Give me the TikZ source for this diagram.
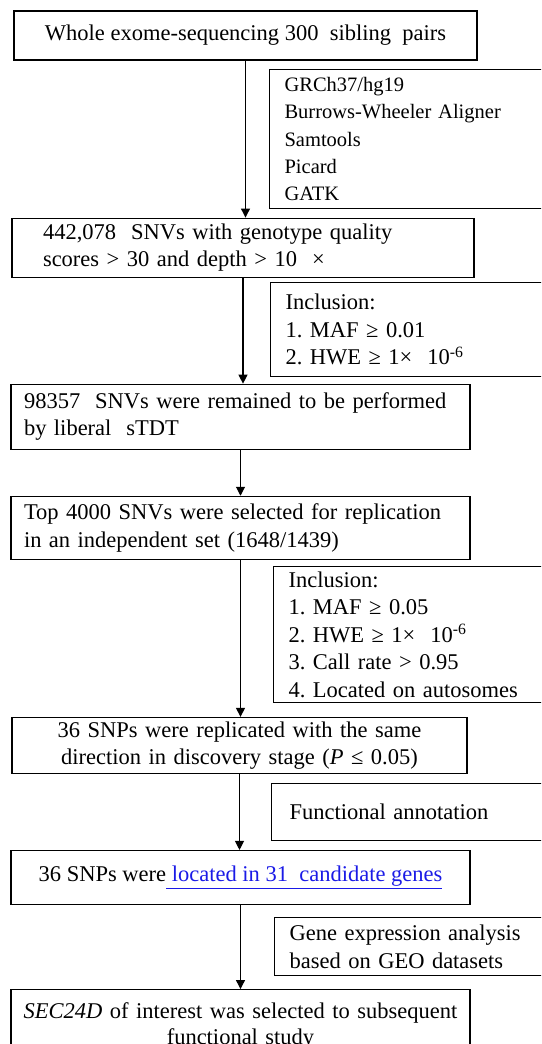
\documentclass[tikz,border=0pt]{standalone}
\usepackage{fontspec}
\setmainfont{Liberation Serif}
\usepackage{xcolor}
\usepackage{tikz}
\usetikzlibrary{arrows.meta, positioning}
\definecolor{linkblue}{HTML}{1A1AE6}
\frenchspacing

\begin{document}
\begin{tikzpicture}[
    x=1pt, y=1pt,
    font=\fontsize{22.5}{27.5}\selectfont,
    stage/.style={rectangle, draw, line width=1.1pt, inner xsep=12pt, inner ysep=2pt},
    note/.style={rectangle, draw, line width=1.1pt, anchor=north west, minimum width=300pt,
                 inner xsep=9pt, inner ysep=2pt, text width=270pt, align=left},
    flow/.style={-{Triangle[width=9pt,length=9pt]}, line width=1.1pt}
  ]
    \clip (0,0) rectangle (541,-1044);

    % main pipeline
    \node[stage, minimum width=463pt, minimum height=49pt] (WES) at (245.5,-35.5)
      {Whole exome-sequencing 300\ \ sibling\ \ pairs};
    \node[stage, below=157pt of WES, xshift=-2.5pt, minimum height=59pt,
          inner xsep=31pt, text width=400pt, align=left] (QC)
      {442,078\ \ SNVs with genotype quality\\ scores > 30 and depth > 10\ \ ×};
    \node[stage, below=106pt of QC, xshift=-2.5pt, minimum height=65pt,
          inner xsep=13pt, text width=433pt, align=left] (TDT)
      {98357\ \ SNVs were remained to be performed\\ by liberal\ \ sTDT};
    \node[stage, below=46pt of TDT, minimum height=63pt,
          inner xsep=13pt, text width=433pt, align=left] (TOP)
      {Top 4000 SNVs were selected for replication\\ in an independent set (1648/1439)};
    \node[stage, below=157pt of TOP, xshift=-1pt, minimum height=56pt,
          text width=431pt, align=center] (REP)
      {36 SNPs were replicated with the same\\ direction in discovery stage (\textit{P} ≤ 0.05)};
    \node[stage, below=76pt of REP, xshift=1pt, minimum width=459pt, minimum height=54pt] (GENE)
      {36 SNPs were\textcolor{linkblue}{\underline{ located in 31\ \ candidate genes}}};
    \node[stage, below=84pt of GENE, inner xsep=6pt, inner ysep=13pt,
          text width=447pt, align=center, font=\fontsize{22.5}{26.5}\selectfont] (SEC)
      {\textit{SEC24D} of interest was selected to subsequent\\ functional study};

    % side notes
    \node[note, minimum height=139pt, font=\fontsize{20.5}{27.2}\selectfont] (tools) at (269,-69)
      {GRCh37/hg19\\ Burrows-Wheeler Aligner\\ Samtools\\ Picard\\ GATK};
    \node[note, minimum height=94pt, inner xsep=11pt] (incl1) at (270,-282)
      {Inclusion:\\ 1. MAF ≥ 0.01\\ 2. HWE ≥ 1×\ \ 10\textsuperscript{-6}};
    \node[note, minimum height=136pt, inner xsep=15pt] (incl2) at (273,-566)
      {Inclusion:\\ 1. MAF ≥ 0.05\\ 2. HWE ≥ 1×\ \ 10\textsuperscript{-6}\\ 3. Call rate > 0.95\\ 4. Located on autosomes};
    \node[note, minimum height=57pt, inner xsep=18pt] (func) at (271,-783)
      {Functional annotation};
    \node[note, minimum height=58pt, inner xsep=8pt] (expr) at (274,-917)
      {Gene expression analysis\\ based on GEO datasets};

    % arrows
    \draw[flow] (WES.south) -- (WES.south |- QC.north);
    \draw[flow] (QC.south) -- (QC.south |- TDT.north);
    \draw[flow] (TDT.south) -- (TDT.south |- TOP.north);
    \draw[flow] (TOP.south) -- (TOP.south |- REP.north);
    \draw[flow] (REP.south) -- (REP.south |- GENE.north);
    \draw[flow] (GENE.south) -- (GENE.south |- SEC.north);
\end{tikzpicture}
\end{document}
